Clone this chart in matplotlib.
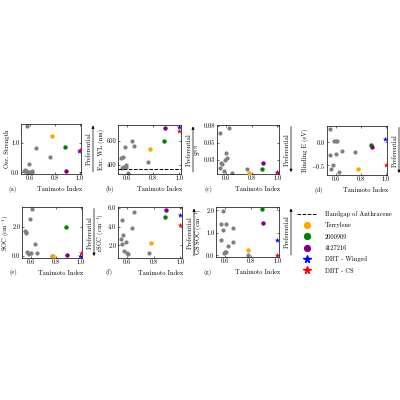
import matplotlib
matplotlib.use("Agg")
import matplotlib.pyplot as plt
from matplotlib.lines import Line2D

plt.rcParams['font.family'] = 'serif'
plt.rcParams['font.serif'] = ['cmr10']
plt.rcParams['mathtext.fontset'] = 'cm'
plt.rcParams['axes.unicode_minus'] = False
plt.rcParams['axes.formatter.use_mathtext'] = True

# ---- highlighted molecules (shared Tanimoto index) ----
hl_names = ["Terrylene", "2000909", "4127216", "DBT - Winged", "DBT - CS"]
hl_x = [0.777, 0.882, 0.888, 0.995, 1.0]
hl_colors = ["orange", "green", "purple", "blue", "red"]
hl_markers = ["o", "o", "o", "*", "*"]

# ---- (a) oscillator strength ----
a_gx = [0.582, 0.649, 0.597, 0.765, 0.556, 0.565, 0.572, 0.585, 0.600, 0.615, 0.622, 0.575]
a_gy = [1.57, 0.83, 0.29, 0.52, 0.03, 0.07, 0.05, 0.02, 0.02, 0.02, 0.03, 0.01]
a_hy = [1.22, 0.85, 0.045, 0.72, 0.74]

# ---- (b) excitation wavelength ----
b_gx = [0.552, 0.570, 0.587, 0.557, 0.572, 0.590, 0.595, 0.608, 0.638, 0.653, 0.759]
b_gy = [455, 468, 545, 373, 381, 400, 386, 337, 600, 556, 422]
b_hy = [531, 600, 701, 715, 679]
anthracene_gap = 364

# ---- (c) S^NN ----
c_gx = [0.555, 0.626, 0.597, 0.605, 0.589, 0.560, 0.571, 0.552, 0.584, 0.647, 0.763]
c_gy = [0.064, 0.0725, 0.035, 0.0275, 0.025, 0.020, 0.0185, 0.0135, 0.0085, 0.006, 0.011]
c_hy = [0.005, 0.011, 0.021, 0.0068, 0.0062]

# ---- (d) binding energy ----
d_gx = [0.551, 0.589, 0.600, 0.610, 0.556, 0.600, 0.649, 0.758, 0.578, 0.559, 0.630]
d_gy = [0.30, 0.02, 0.02, 0.02, -0.28, -0.25, -0.19, -0.21, -0.50, -0.59, -0.645]
d_hy = [-0.59, -0.06, -0.095, 0.065, -0.49]

# ---- (e) SOC ----
e_gx = [0.613, 0.597, 0.554, 0.561, 0.566, 0.636, 0.569, 0.587, 0.603, 0.652, 0.768, 0.578]
e_gy = [3.26, 2.58, 1.70, 1.63, 1.56, 0.81, 0.23, 0.12, 0.19, 0.16, 0.0, 0.17]
e_hy = [0.0, 2.0, 0.05, 0.0, 0.16]

# ---- (f) rSOC ----
f_gx = [0.648, 0.557, 0.633, 0.565, 0.549, 0.587, 0.562, 0.577, 0.595, 0.603, 0.762]
f_gy = [5.57, 4.75, 3.89, 3.07, 2.71, 2.32, 2.14, 1.36, 1.21, 1.07, 1.18]
f_hy = [2.25, 5.07, 5.79, 5.20, 4.14]

# ---- (g) GS SOC ----
g_gx = [0.583, 0.570, 0.605, 0.583, 0.565, 0.660, 0.660, 0.625, 0.610, 0.595, 0.600, 0.775]
g_gy = [1.97, 1.41, 1.41, 1.14, 0.67, 1.21, 0.58, 0.40, 0.15, 0.12, 0.16, 0.0]
g_hy = [0.25, 2.07, 1.42, 0.67, 0.03]

panels = [
    # letter, gx, gy, hy, ylabel, ylim, yticks, yticklabels, arrow_up, rect(px: left, top, w, h)
    ("a", a_gx, a_gy, a_hy, "Osc. Strength", (-0.056, 1.63), [0.0, 1.0], ["0.0", "1.0"], True, (21, 124, 60, 50)),
    ("b", b_gx, b_gy, b_hy, "Exc. WL (nm)", (326, 729), [400, 600], ["400", "600"], True, (118, 125, 63, 49)),
    ("c", c_gx, c_gy, c_hy, r"S$^{\rm NN}$", (0.004, 0.0765), [0.025, 0.05, 0.075], ["0.03", "0.05", "0.08"], False, (217, 125, 62, 49)),
    ("d", d_gx, d_gy, d_hy, "Binding E (eV)", (-0.71, 0.355), [-0.5, 0.0], [r"$-0.5$", "0.0"], False, (327, 126, 60, 49)),
    ("e", e_gx, e_gy, e_hy, r"SOC (cm$^{-1}$)", (-0.16, 3.4), [0.0, 2.0], ["0.0", "2.0"], False, (22, 207, 60, 51)),
    ("f", f_gx, f_gy, f_hy, r"rSOC (cm$^{-1}$)", (0.64, 6.1), [2.0, 4.0, 6.0], ["2.0", "4.0", "6.0"], True, (118, 207, 64, 51)),
    ("g", g_gx, g_gy, g_hy, r"GS SOC (cm$^{-1}$)", (-0.07, 2.15), [0.0, 1.0, 2.0], ["0.0", "1.0", "2.0"], True, (216, 207, 63, 50)),
]

W = H = 400
fig = plt.figure(figsize=(4, 4), dpi=100)
fs = 4.6

for letter, gx, gy, hy, ylabel, ylim, yt, ytl, up, (l, t, w, h) in panels:
    ax = fig.add_axes([l / W, 1 - (t + h) / H, w / W, h / H])
    ax.scatter(gx, gy, s=9, color="grey", zorder=2, linewidths=0)
    for x, y, c, m in zip(hl_x, hy, hl_colors, hl_markers):
        ax.scatter([x], [y], s=(16 if m == "*" else 10), color=c, marker=m, zorder=3, linewidths=0)
    if letter == "b":
        ax.axhline(anthracene_gap, color="black", ls="--", lw=0.7)
    ax.set_xlim(0.53, 1.012)
    ax.set_ylim(*ylim)
    ax.set_xticks([0.6, 0.8, 1.0])
    ax.set_xticklabels(["0.6", "0.8", "1.0"])
    ax.set_yticks(yt)
    ax.set_yticklabels(ytl)
    ax.tick_params(direction="in", length=1.5, width=0.4, labelsize=fs, pad=1.2,
                   top=True, right=True)
    for sp in ax.spines.values():
        sp.set_linewidth(0.5)
    ax.set_ylabel(ylabel, fontsize=fs, labelpad=(0.4 if letter == "e" else 0.8))
    # panel label and x label
    ax.text(-13 / w, -15 / h, f"({letter})", transform=ax.transAxes,
            ha="left", va="center", fontsize=fs)
    ax.text(1.0 + 1 / w, -15 / h, "Tanimoto Index", transform=ax.transAxes,
            ha="right", va="center", fontsize=fs)
    # Preferential arrow
    ax.text(1.0 + 8 / w, 0.5, "Preferential", rotation=90, transform=ax.transAxes,
            ha="center", va="center", fontsize=fs)
    xa = 1.0 + 12 / w
    if up:
        p0, p1 = (xa, 0.04), (xa, 0.97)
    else:
        p0, p1 = (xa, 0.97), (xa, 0.04)
    ax.annotate("", xy=p1, xytext=p0, xycoords="axes fraction",
                arrowprops=dict(arrowstyle="-|>", lw=0.5, color="black",
                                mutation_scale=4, shrinkA=0, shrinkB=0))

handles = [Line2D([0], [0], color="black", ls="--", lw=0.7)]
for c, m in zip(hl_colors, hl_markers):
    handles.append(Line2D([0], [0], color=c, marker=m, ls="none", markersize=(5.5 if m == "*" else 4.2)))
labels = ["Bandgap of Anthracene"] + hl_names
fig.legend(handles, labels, loc="upper left", bbox_to_anchor=(297 / W, 1 - 211 / H),
           frameon=False, fontsize=fs, handlelength=3.2, handletextpad=1.2,
           labelspacing=0.85, borderaxespad=0, borderpad=0)

fig.savefig("out.png", dpi=100)
